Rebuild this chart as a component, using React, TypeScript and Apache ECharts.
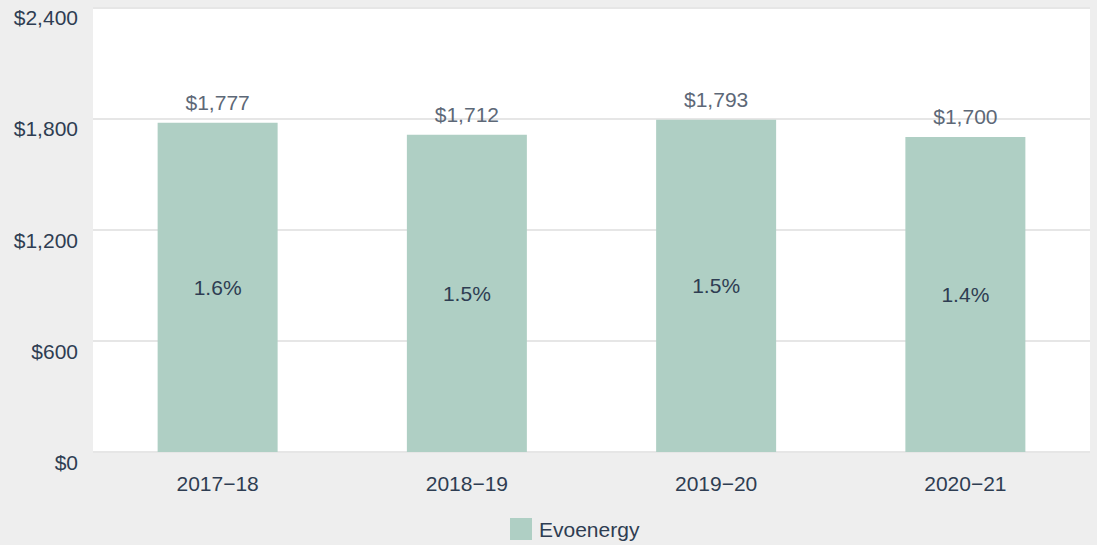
import React, { useEffect, useRef } from "react";
import * as echarts from "echarts";

const categories = ["2017\u221218", "2018\u221219", "2019\u221220", "2020\u221221"];
const values = [1777, 1712, 1793, 1700];
const percents = ["1.6%", "1.5%", "1.5%", "1.4%"];
const seriesName = "Evoenergy";

const FONT = "'Liberation Sans', Arial, Helvetica, sans-serif";
const DARK = "#2e3d52";

export default function App() {
  const ref = useRef<HTMLDivElement>(null);
  useEffect(() => {
    document.body.style.margin = "0";
    const chart = echarts.init(ref.current!, null, { renderer: "svg" });
    const fmt = (v: number) => "$" + v.toLocaleString("en-US");
    chart.setOption({
      animation: false,
      backgroundColor: "#eeeeee",
      textStyle: { fontFamily: FONT },
      grid: {
        left: 93,
        right: 7,
        top: 7.3,
        bottom: 93,
        show: true,
        backgroundColor: "#ffffff",
        borderWidth: 0,
      },
      legend: {
        bottom: 0,
        left: 505,
        itemWidth: 22,
        itemHeight: 22,
        itemGap: 10,
        icon: "rect",
        textStyle: { fontSize: 21, color: DARK, fontFamily: FONT, padding: [0, 0, 0, 2] },
        data: [seriesName],
      },
      xAxis: {
        type: "category",
        data: categories,
        axisLine: { show: false },
        axisTick: { show: false },
        axisLabel: { fontSize: 21, color: DARK, margin: 21, fontFamily: FONT },
      },
      yAxis: {
        type: "value",
        min: 0,
        max: 2400,
        interval: 600,
        axisLine: { show: false },
        axisTick: { show: false },
        splitLine: { lineStyle: { color: "#e6e6e6", width: 2 } },
        axisLabel: {
          fontSize: 21,
          color: DARK,
          margin: 15,
          fontFamily: FONT,
          verticalAlign: "top",
          formatter: (v: number) => fmt(v),
        },
      },
      series: [
        {
          name: seriesName,
          type: "bar",
          data: values,
          barWidth: 120,
          itemStyle: { color: "#afcfc4" },
          label: {
            show: true,
            position: "inside",
            fontSize: 21,
            color: DARK,
            fontFamily: FONT,
            formatter: (p: any) => percents[p.dataIndex],
          },
        },
        {
          name: seriesName,
          type: "bar",
          data: values,
          barWidth: 120,
          barGap: "-100%",
          itemStyle: { color: "transparent" },
          silent: true,
          label: {
            show: true,
            position: "top",
            distance: 10,
            fontSize: 21,
            color: "#5d6877",
            fontFamily: FONT,
            formatter: (p: any) => fmt(p.value),
          },
        },
      ],
    });
    return () => chart.dispose();
  }, []);
  return <div ref={ref} style={{ width: 1097, height: 545 }} />;
}
